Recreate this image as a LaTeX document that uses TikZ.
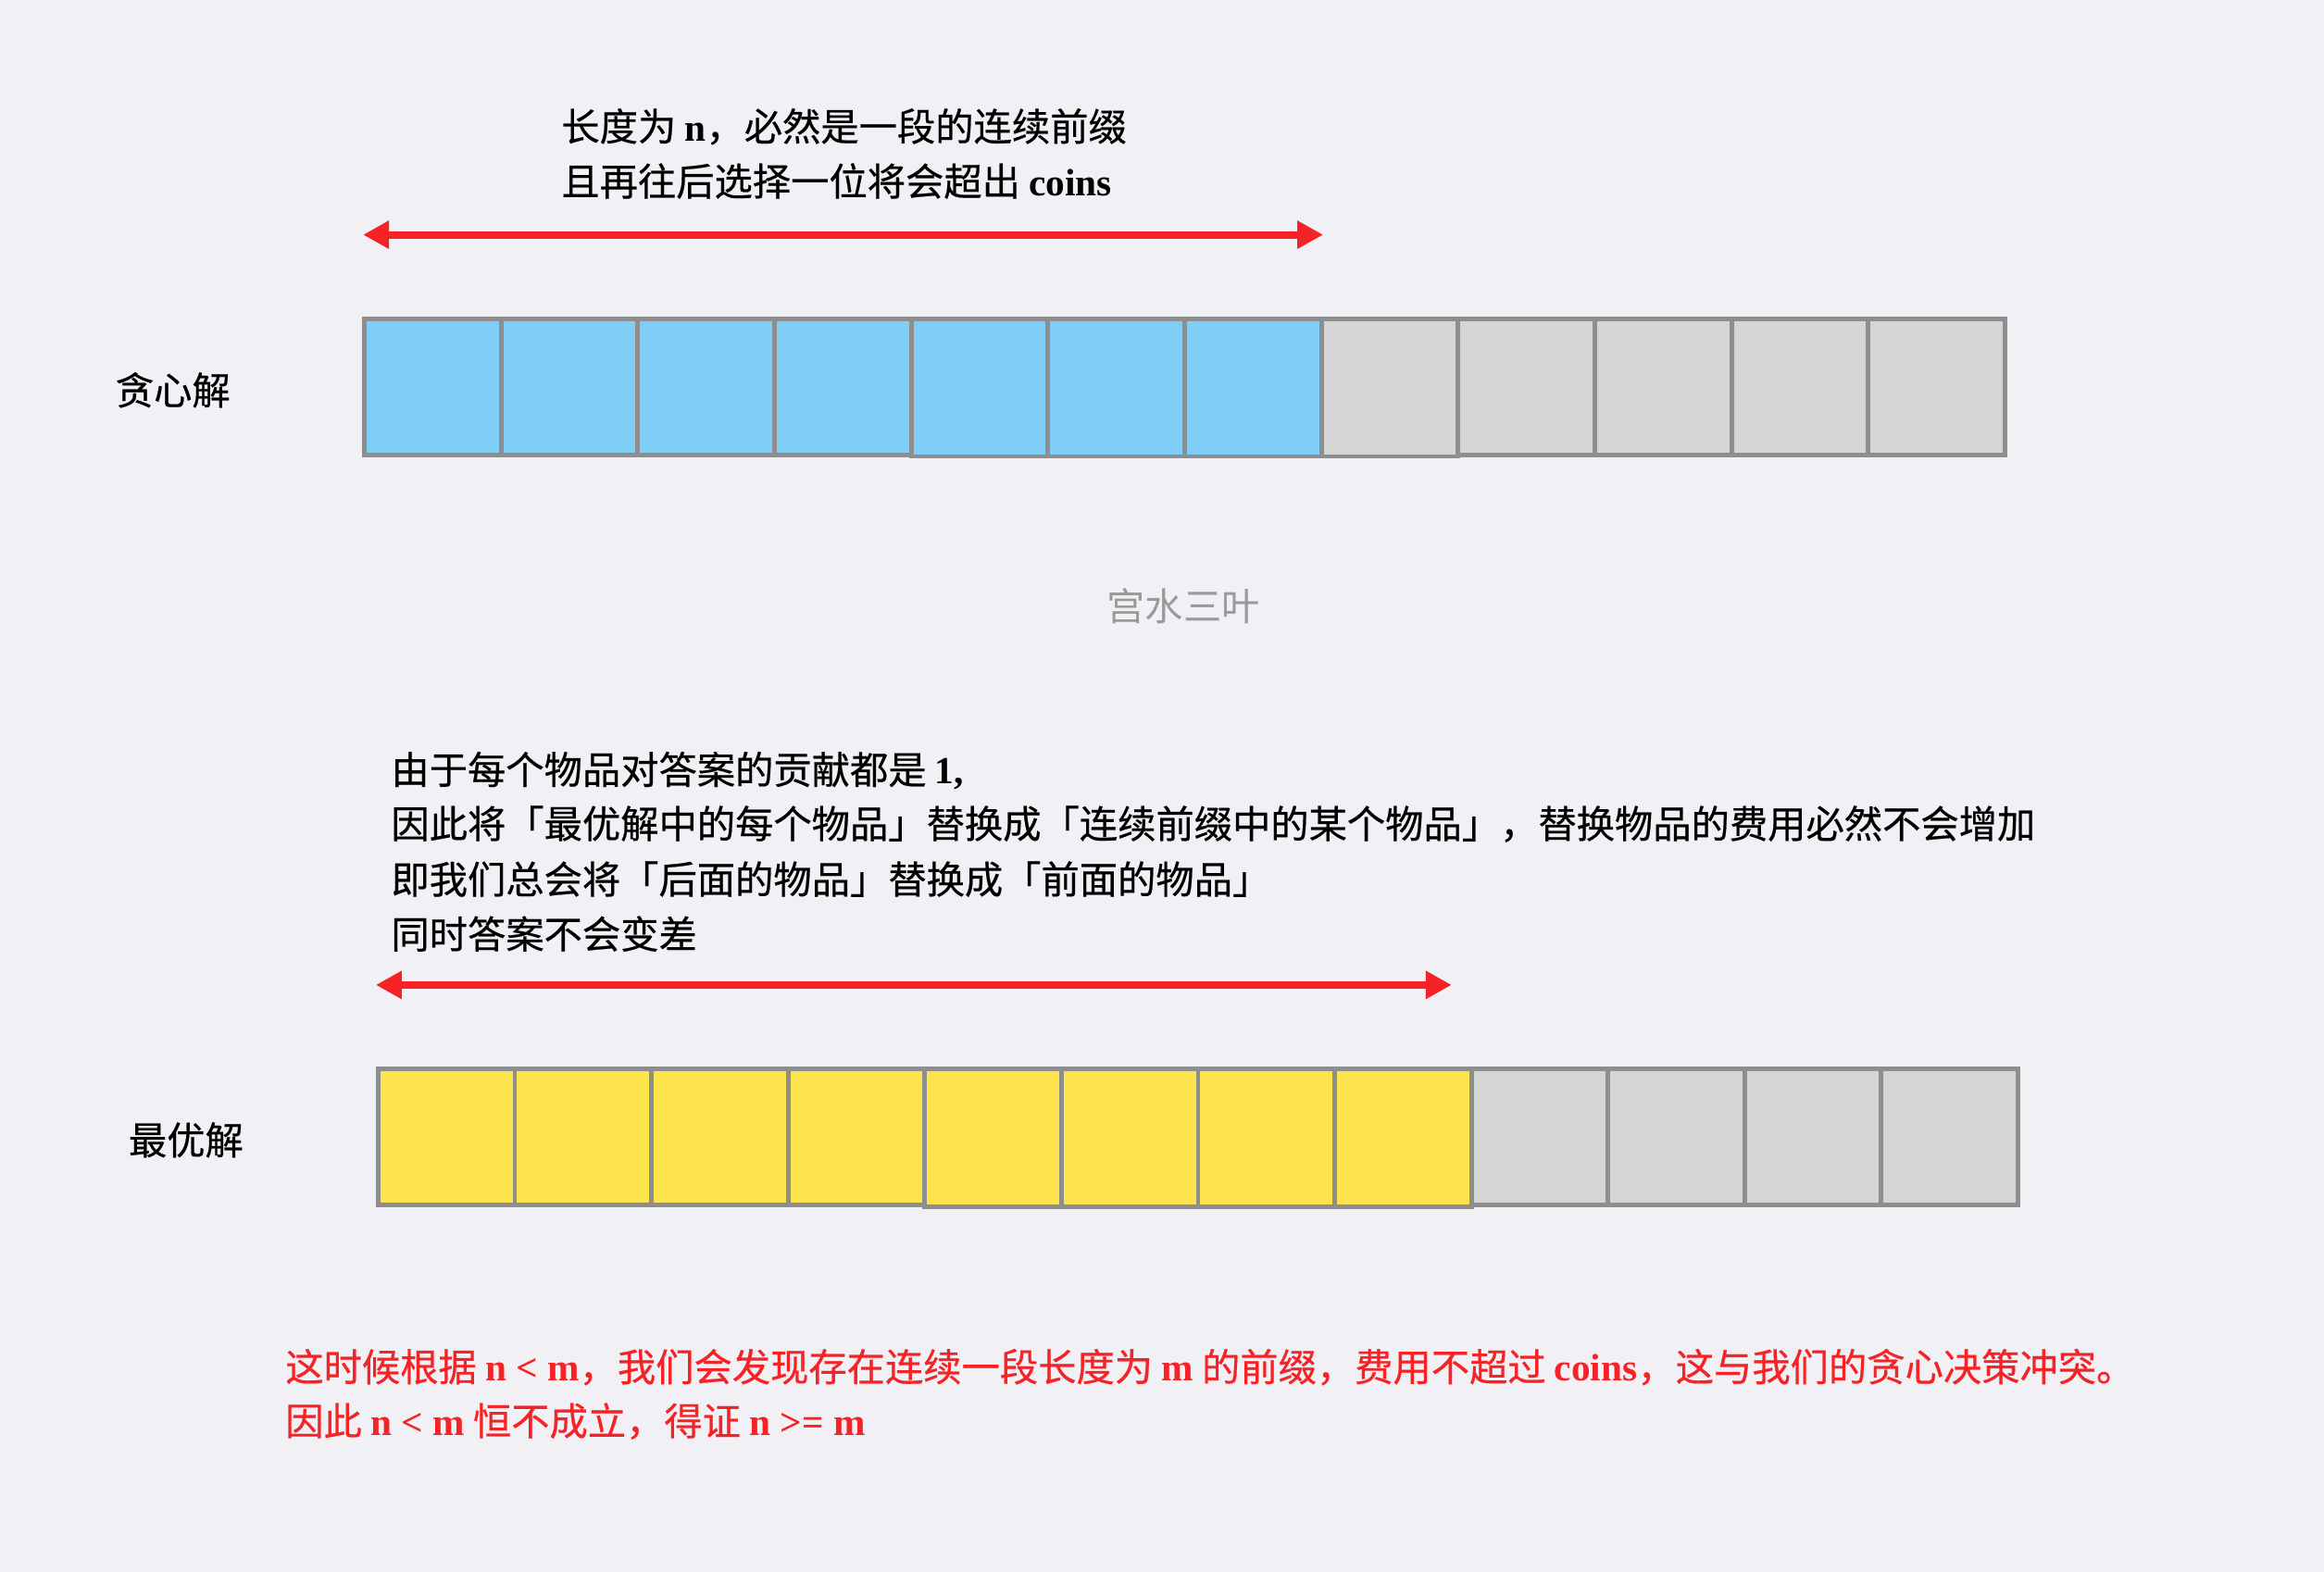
\documentclass[tikz,border=0pt]{standalone}
\usepackage{fontspec}
\setmainfont{Liberation Serif}
\newfontfamily\cjk{Noto Sans CJK SC}[FakeBold=0.5]
\newfontfamily\cjklight{Noto Sans CJK SC}
\usetikzlibrary{arrows.meta}
\definecolor{bg}{HTML}{F0F0F5}
\definecolor{cellblue}{HTML}{7ECEF7}
\definecolor{cellyellow}{HTML}{FDE44C}
\definecolor{cellgray}{HTML}{D5D5D5}
\definecolor{cellborder}{HTML}{8E8E8E}
\definecolor{arrowred}{HTML}{F52226}
\definecolor{wmgray}{HTML}{9A9A9A}
\newcommand\latb[1]{{\rmfamily\bfseries #1}}
\begin{document}
\begin{tikzpicture}[x=1pt,y=-1pt,
  cell/.style={draw=cellborder, line width=3pt, rectangle, inner sep=0pt, outer sep=0pt,
    anchor=north west, minimum width=92.25pt},
  redarrow/.style={draw=arrowred, line width=5pt,
    {Triangle[length=17.5pt,width=18pt]}-{Triangle[length=17.5pt,width=18pt]}},
  txt/.style={anchor=base west, inner sep=0pt, font=\cjk\fontsize{25.8}{30}\selectfont},
  wm/.style={anchor=base, inner sep=0pt, text=wmgray, font=\cjklight\fontsize{25.8}{30}\selectfont}]
\useasboundingbox (0,0) rectangle (1568,1060.7);
\fill[bg] (0,0) rectangle (1568,1060.7);

% greedy row
\foreach \i in {1,...,12}{
  \ifnum\i<8 \def\cc{cellblue}\else\def\cc{cellgray}\fi
  \ifnum\i>4 \ifnum\i<9 \def\hh{93pt}\else\def\hh{92pt}\fi\else\def\hh{92pt}\fi
  \pgfmathsetmacro\xx{245.8+(\i-1)*92.25}
  \node[cell, fill=\cc, minimum height=\hh] (g\i) at (\xx,215) {};
}
% optimal row
\foreach \i in {1,...,12}{
  \ifnum\i<9 \def\cc{cellyellow}\else\def\cc{cellgray}\fi
  \ifnum\i>4 \ifnum\i<9 \def\hh{93pt}\else\def\hh{91.7pt}\fi\else\def\hh{91.7pt}\fi
  \pgfmathsetmacro\xx{255.1+(\i-1)*92.2}
  \node[cell, fill=\cc, minimum height=\hh] (o\i) at (\xx,721.3) {};
}

% arrows
\coordinate (ta) at (245,158.4);
\coordinate (tb) at (892.7,158.4);
\draw[redarrow] (ta) -- (tb);
\coordinate (ba) at (253.6,664.6);
\coordinate (bb) at (979.4,664.6);
\draw[redarrow] (ba) -- (bb);

% labels
\node[txt] (lg) at (77.8,273) {贪心解};
\node[txt] (lo) at (86.6,779) {最优解};
\node[wm] (wm) at (798.5,419) {宫水三叶};

% top text
\node[txt] (t1) at (378.6,95) {长度为 \latb{n}，必然是一段的连续前缀};
\node[txt] (t2) at (378.6,132) {且再往后选择一位将会超出 \latb{coins}};

% middle text
\node[txt] (m1) at (263.7,529) {由于每个物品对答案的贡献都是 \latb{1,}};
\node[txt] (m2) at (263.7,565.5) {因此将「最优解中的每个物品」替换成「连续前缀中的某个物品」，替换物品的费用必然不会增加};
\node[txt] (m3) at (263.7,603) {即我们总会将「后面的物品」替换成「前面的物品」};
\node[txt] (m4) at (263.7,640) {同时答案不会变差};

% conclusion
\node[txt, text=arrowred] (c1) at (192.4,932) {这时候根据 \latb{n < m}，我们会发现存在连续一段长度为 \latb{m} 的前缀，费用不超过 \latb{coins}，这与我们的贪心决策冲突。};
\node[txt, text=arrowred] (c2) at (192.4,968.5) {因此 \latb{n < m} 恒不成立，得证 \latb{n >= m}};
\end{tikzpicture}
\end{document}
